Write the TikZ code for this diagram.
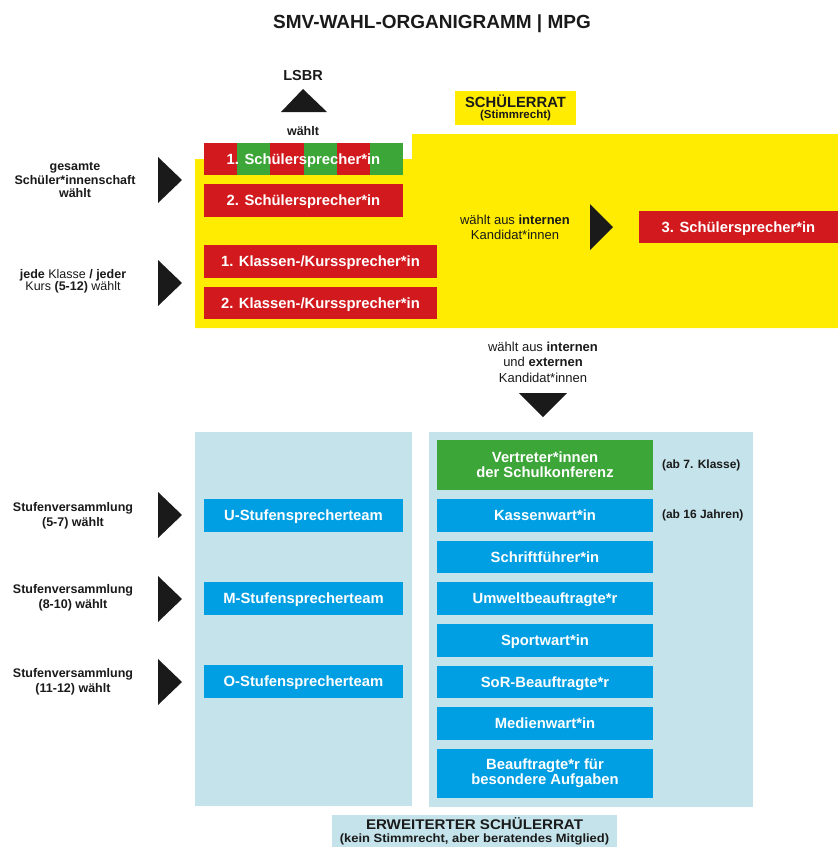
\documentclass[tikz,border=0pt]{standalone}
\usepackage{fontspec}
\setmainfont{Liberation Sans}
\definecolor{myyellow}{HTML}{FFEC00}
\definecolor{myred}{HTML}{D2191E}
\definecolor{mygreen}{HTML}{3DA638}
\definecolor{myblue}{HTML}{009FE3}
\definecolor{mylight}{HTML}{C4E3EA}
\definecolor{mytext}{HTML}{1A1A1A}
\begin{document}
\begin{tikzpicture}[x=1pt,y=-1pt,
  every node/.style={inner sep=0pt, outer sep=0pt, text=mytext},
  boxtxt/.style={font=\fontsize{14.8}{15}\selectfont\bfseries, text=white, align=center},
  one/.style={text height=10.6, text depth=0},
  redbox/.style={boxtxt, one, fill=myred, minimum height=33},
  bluebox/.style={boxtxt, fill=myblue, minimum width=216, minimum height=33},
  leftbox/.style={boxtxt, one, fill=myblue, minimum width=199, minimum height=33},
  lbl/.style={font=\fontsize{12.5}{14}\selectfont\bfseries, align=center},
  ann/.style={font=\fontsize{12}{14}\selectfont\bfseries, anchor=west},
  tri/.style={fill=mytext}
]
\useasboundingbox (0,0) rectangle (838,847);
\fill[white] (0,0) rectangle (838,847);

% title
\node[font=\fontsize{19}{21}\selectfont\bfseries] (title) at (432,24) {SMV-WAHL-ORGANIGRAMM | MPG};

% LSBR
\node[font=\fontsize{14.5}{16}\selectfont\bfseries] (lsbr) at (303,76) {LSBR};
\fill[tri] (281,112) -- (327,112) -- (303,89) -- cycle;
\node[lbl] (waehlt) at (303,131) {wählt};

% yellow area
\fill[myyellow] (195,159) -- (412,159) -- (412,134) -- (838,134) -- (838,328) -- (195,328) -- cycle;
\node[fill=myyellow, minimum width=121, minimum height=34, align=center] (rat) at (515.5,108)
  {{\fontsize{14.8}{15}\selectfont\bfseries SCHÜLERRAT}\\[-0.5pt]{\fontsize{11.5}{13}\selectfont\bfseries (Stimmrecht)}};

% striped 1. Schülersprecher
\fill[myred] (204,143) rectangle (403,175);
\foreach \x in {237,304,370} \fill[mygreen] (\x,143) rectangle ++(33,32);
\node[boxtxt, one, minimum width=199, minimum height=32] (s1) at (303.5,159) {1. Schülersprecher*in};
\node[redbox, minimum width=199] (s2) at (303.5,200.5) {2. Schülersprecher*in};
\node[redbox, minimum width=233] (k1) at (320.5,261.5) {1. Klassen-/Kurssprecher*in};
\node[redbox, minimum width=233, minimum height=32] (k2) at (320.5,303) {2. Klassen-/Kurssprecher*in};

% left labels top
\node[lbl, font=\fontsize{12.5}{13.5}\selectfont\bfseries] (l1) at (75,180) {gesamte\\Schüler*innenschaft\\wählt};
\fill[tri] (158,157) -- (158,203) -- (182,180) -- cycle;
\node[lbl, font=\fontsize{12.5}{12}\selectfont] (l2) at (73,281) {\textbf{jede} Klasse \textbf{/ jeder}\\Kurs \textbf{(5-12)} wählt};
\fill[tri] (158,260) -- (158,306) -- (182,283) -- cycle;

% middle
\node[lbl, font=\fontsize{13}{15}\selectfont] (m1) at (515,227) {wählt aus \textbf{internen}\\Kandidat*innen};
\fill[tri] (590,204) -- (590,250) -- (613,227) -- cycle;
\node[redbox, minimum width=199, minimum height=32] (s3) at (738.5,227) {3. Schülersprecher*in};

\node[lbl, font=\fontsize{13}{15.5}\selectfont] (m2) at (543,362) {wählt aus \textbf{internen}\\und \textbf{externen}\\Kandidat*innen};
\fill[tri] (519,393) -- (567,393) -- (543,417) -- cycle;

% panels
\fill[mylight] (195,432) rectangle (412,806);
\fill[mylight] (429,432) rectangle (753,807);

\node[leftbox] (u) at (303.5,515) {U-Stufensprecherteam};
\node[leftbox] (mm) at (303.5,598.5) {M-Stufensprecherteam};
\node[leftbox] (o) at (303.5,681.5) {O-Stufensprecherteam};

\node[lbl, font=\fontsize{12.5}{15}\selectfont\bfseries] (lu) at (73,515.5) {Stufenversammlung\\(5-7) wählt};
\node[lbl, font=\fontsize{12.5}{15}\selectfont\bfseries] (lm) at (73,598) {Stufenversammlung\\(8-10) wählt};
\node[lbl, font=\fontsize{12.5}{15}\selectfont\bfseries] (lo) at (73,682) {Stufenversammlung\\(11-12) wählt};
\fill[tri] (158,492) -- (158,538) -- (182,515) -- cycle;
\fill[tri] (158,576) -- (158,622) -- (182,599) -- cycle;
\fill[tri] (158,659) -- (158,705) -- (182,682) -- cycle;

\node[bluebox, fill=mygreen, minimum height=50] (v) at (545,465) {Vertreter*innen\\der Schulkonferenz};
\node[bluebox, one] (ka) at (545,515.5) {Kassenwart*in};
\node[bluebox, one, minimum height=32] (sf) at (545,557) {Schriftführer*in};
\node[bluebox, one] (um) at (545,598.5) {Umweltbeauftragte*r};
\node[bluebox, one] (sp) at (545,640.5) {Sportwart*in};
\node[bluebox, one, minimum height=32] (so) at (545,682) {SoR-Beauftragte*r};
\node[bluebox, one] (me) at (545,723.5) {Medienwart*in};
\node[bluebox, minimum height=49] (be) at (545,773.5) {Beauftragte*r für\\besondere Aufgaben};

\node[ann] (a1) at (662,465) {(ab 7. Klasse)};
\node[ann] (a2) at (662,515) {(ab 16 Jahren)};

% bottom label
\fill[mylight] (332,815) rectangle (617,847);
\node[font=\fontsize{14}{15}\selectfont\bfseries, text height=10, text depth=0] (erw) at (474.5,824.5)
  {\scalebox{1.08}[1]{ERWEITERTER SCHÜLERRAT}};
\node[font=\fontsize{12}{13}\selectfont\bfseries, text height=8.6, text depth=0] (erw2) at (474.5,838.5)
  {\scalebox{1.08}[1]{(kein Stimmrecht, aber beratendes Mitglied)}};
\end{tikzpicture}
\end{document}
